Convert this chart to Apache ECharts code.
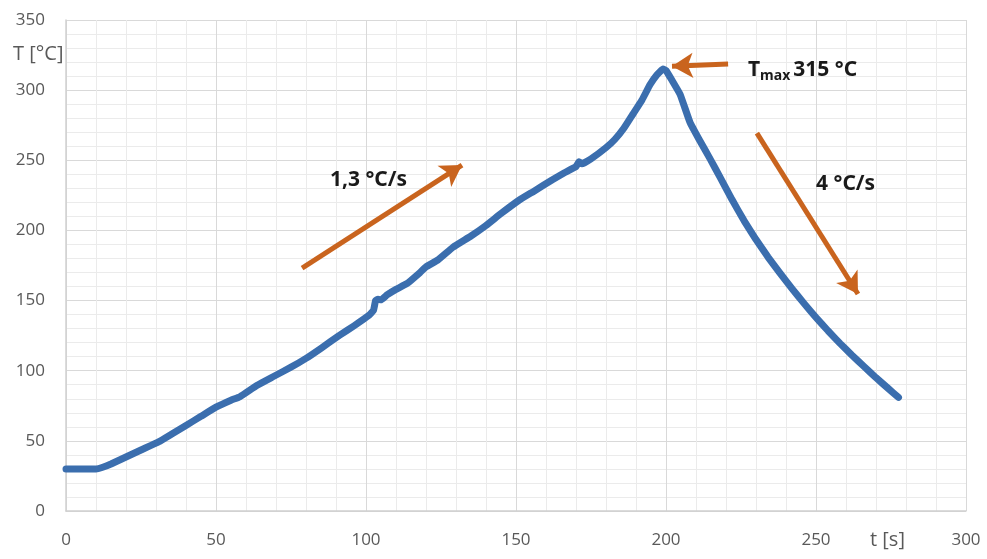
<!DOCTYPE html>
<html><head><meta charset="utf-8">
<script src="https://cdn.jsdelivr.net/npm/echarts@6/dist/echarts.min.js"></script>
<style>html,body{margin:0;padding:0;background:#fff}#c{width:987px;height:559px}</style>
</head><body><div id="c"></div>
<script>
const timeS = [0,5,10,12,15,20,25,31,35,40,45,50,55,58,63.6,69,75,80,85,91,96,101,102.5,103.2,104,105,107,110,113.6,118,120,124,129,135,140,145,151,156,162,166,170,171,172,175,180,183,186,189,192,194.7,197,199,200,202,204.7,208,211,214.7,218,222,226,230,234,238,242,246,250,254,258,262,266,270,274,277.5];
const tempC = [30,30,30,31,33.5,38.5,43.5,49.4,54.5,61,67.5,74,79,81.5,89.5,95.7,102.5,108.8,116,125,132,139.5,143,150,151,150.5,154,158,162,170,174,179,188,196,203.5,212,221.5,228,236,241,245.5,249,247.5,251,259,265,273,283,293,304,311,315,314,307,297,277,265,251,238,222,207,193.5,181,169.5,158.5,148,138,128.5,119.5,111,103,95,87.5,81];
const xTicks = [0,50,100,150,200,250,300];
const yTicks = [0,50,100,150,200,250,300,350];
const arrowUp = [[78.7,173.2],[132,246.6]];
const arrowDown = [[230.3,269.4],[264,154.7]];
const arrowTmax = [[220.7,318.6],[202,317]];
const labelRate1 = '1,3 °C/s';
const labelRate2 = '4 °C/s';
const labelTmax = '315 °C';

const chart = echarts.init(document.getElementById('c'));
const ff = '"Open Sans", "Liberation Sans", sans-serif';
const fb = '"Noto Sans", "Liberation Sans", sans-serif';
const arrowColor = '#c9641e';
function arrow(pts){
  return [{coord: pts[0], symbol:'none'},{coord: pts[1], symbol:'arrow', symbolSize:[19,21]}];
}
function ttl(left, top, text, size, bold, color, fam){
  return {left:left,top:top,padding:0,text:text,textStyle:{color:color,fontSize:size,fontWeight:bold?700:400,fontFamily:fam}};
}
chart.setOption({
  animation:false,
  title:[
    ttl(13,44,'T [°C]',20,false,'#595959',ff),
    ttl(870,530,'t [s]',20,false,'#595959',ff),
    ttl(330,170,labelRate1,21,true,'#1a1a1a',fb),
    ttl(816,174,labelRate2,21,true,'#1a1a1a',fb),
    {left:748,top:57,padding:0,text:'{a|T}{b|max}{a|'+labelTmax+'}',textStyle:{
      rich:{a:{color:'#1a1a1a',fontSize:21,fontWeight:700,fontFamily:fb},
            b:{color:'#1a1a1a',fontSize:14,fontWeight:700,fontFamily:fb,padding:[12,3,0,0]}}}}
  ],
  grid:{left:66,right:21,top:20,bottom:48},
  xAxis:{type:'value',min:xTicks[0],max:xTicks[xTicks.length-1],interval:50,
    axisLine:{show:true,lineStyle:{color:'#d0d0d0',width:1.5}},axisTick:{show:false},
    axisLabel:{color:'#595959',fontSize:17,fontFamily:ff,margin:21,
      formatter:v=>xTicks.includes(v)?String(v):''},
    splitLine:{show:true,lineStyle:{color:'#d9d9d9'}},
    minorTick:{show:false,splitNumber:5},
    minorSplitLine:{show:true,lineStyle:{color:'#ebebeb'}}},
  yAxis:{type:'value',min:yTicks[0],max:yTicks[yTicks.length-1],interval:50,
    axisLine:{show:true,lineStyle:{color:'#d0d0d0',width:1.5}},axisTick:{show:false},
    axisLabel:{color:'#595959',fontSize:17,fontFamily:ff,margin:21},
    splitLine:{show:true,lineStyle:{color:'#d9d9d9'}},
    minorTick:{show:false,splitNumber:5},
    minorSplitLine:{show:true,lineStyle:{color:'#ebebeb'}}},
  series:[{
    type:'line',data:timeS.map((t,i)=>[t,tempC[i]]),showSymbol:false,smooth:0.1,
    lineStyle:{color:'#3b6eae',width:7,cap:'round',join:'round'},
    markLine:{silent:true,animation:false,
      lineStyle:{color:arrowColor,width:5,type:'solid'},label:{show:false},
      data:[arrow(arrowUp),arrow(arrowDown),arrow(arrowTmax)]}
  }]
});
</script></body></html>
